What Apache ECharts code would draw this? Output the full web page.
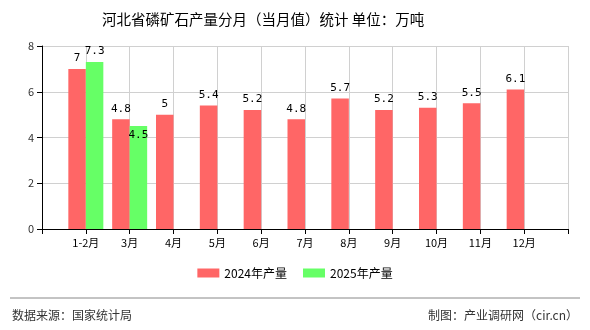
<!DOCTYPE html>
<html><head><meta charset="utf-8">
<script src="https://cdn.jsdelivr.net/npm/echarts@6/dist/echarts.min.js"></script>
<style>html,body{margin:0;padding:0;background:#fff}#c{width:590px;height:330px}</style>
</head><body><div id="c"></div>
<script>
const categories = ["", "1-2月", "3月", "4月", "5月", "6月", "7月", "8月", "9月", "10月", "11月", "12月", ""];
const values2024 = [null, 7, 4.8, 5, 5.4, 5.2, 4.8, 5.7, 5.2, 5.3, 5.5, 6.1, null];
const values2025 = [null, 7.3, 4.5, null, null, null, null, null, null, null, null, null, null];
const yTicks = [0, 2, 4, 6, 8];
const seriesNames = ["2024年产量", "2025年产量"];

const font = "'Noto Sans CJK SC', sans-serif";
const chart = echarts.init(document.getElementById('c'), null, {renderer: 'canvas'});
const d2025 = values2025.map((v, i) => i === 2 ? {value: v, label: {offset: [0, 20]}} : v);
chart.setOption({
  animation: false,
  title: {text: '河北省磷矿石产量分月（当月值）统计 单位：万吨', left: 97, top: 7,
    textStyle: {fontSize: 14.5, fontWeight: 'normal', color: '#000', fontFamily: font}},
  grid: {left: 42, right: 22, top: 46, bottom: 101},
  legend: {data: seriesNames, bottom: 46, left: 'center', icon: 'rect', itemWidth: 22, itemHeight: 9, itemGap: 16,
    textStyle: {fontSize: 12, color: '#000', fontFamily: font}},
  xAxis: {type: 'category', data: categories, boundaryGap: false,
    axisLine: {lineStyle: {color: '#000'}}, axisTick: {show: true, lineStyle: {color: '#000'}},
    axisLabel: {color: '#000', fontSize: 11, fontFamily: font, interval: 0, margin: 8},
    splitLine: {show: true, lineStyle: {color: '#d0d0d0'}}},
  yAxis: {type: 'value', min: yTicks[0], max: yTicks[yTicks.length - 1], interval: 2,
    axisLine: {show: true, lineStyle: {color: '#000'}}, axisTick: {show: true, lineStyle: {color: '#000'}},
    axisLabel: {color: '#333', fontSize: 11, fontFamily: font, margin: 8},
    splitLine: {lineStyle: {color: '#d0d0d0'}}},
  series: [
    {name: seriesNames[0], type: 'bar', data: values2024, barWidth: 17.5, barGap: '0%',
      itemStyle: {color: '#ff6666'},
      label: {show: true, position: 'top', color: '#000', fontSize: 11, fontFamily: 'DejaVu Sans Mono, monospace'}},
    {name: seriesNames[1], type: 'bar', data: d2025, barWidth: 17.5, barGap: '0%',
      itemStyle: {color: '#66ff66'},
      label: {show: true, position: 'top', color: '#000', fontSize: 11, fontFamily: 'DejaVu Sans Mono, monospace'}}
  ],
  graphic: [
    {type: 'line', shape: {x1: 10, y1: 298, x2: 580, y2: 298}, style: {stroke: '#888', lineWidth: 1}},
    {type: 'text', left: 12, top: 309, style: {text: '数据来源：国家统计局', fontSize: 12, fill: '#333', fontFamily: font}},
    {type: 'text', right: 12, top: 309, style: {text: '制图：产业调研网（cir.cn）', fontSize: 12, fill: '#333', fontFamily: font}}
  ]
});
</script></body></html>
